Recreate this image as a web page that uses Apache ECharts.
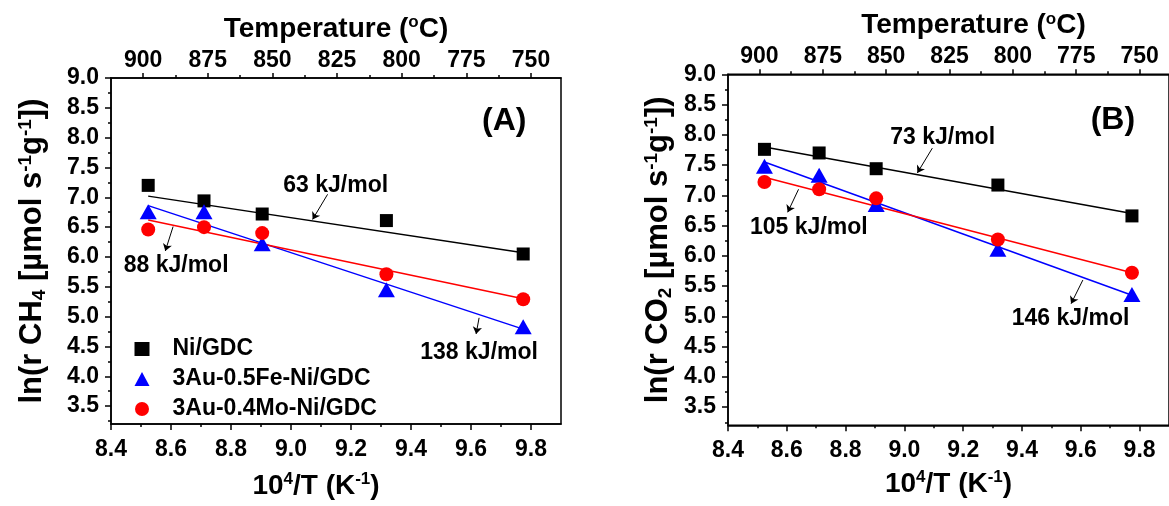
<!DOCTYPE html>
<html>
<head>
<meta charset="utf-8">
<script src="https://cdn.jsdelivr.net/npm/echarts@6/dist/echarts.min.js"></script>
<style>
  html, body { margin: 0; padding: 0; background: #fff; }
  #main { width: 1169px; height: 506px; }
</style>
</head>
<body>
<div id="main"></div>
<script>
// 测点 10^4/T (对应 900, 875, 850, 800, 750 °C)
const xPts = [8.524, 8.710, 8.904, 9.318, 9.774];

// (A) ln(r CH4)
const niA = [7.20, 6.94, 6.72, 6.61, 6.05];
const feA = [6.76, 6.76, 6.22, 5.45, 4.83];
const moA = [6.46, 6.50, 6.40, 5.71, 5.29];
// (B) ln(r CO2)
const niB = [7.76, 7.70, 7.44, 7.17, 6.66];
const feB = [7.48, 7.33, 6.85, 6.11, 5.36];
const moB = [7.22, 7.10, 6.95, 6.27, 5.72];

// 拟合直线两端
const fitX = [8.524, 9.774];
const fitNiA = [7.02, 6.07];
const fitFeA = [6.86, 4.79];
const fitMoA = [6.62, 5.30];
const fitNiB = [7.80, 6.70];
const fitFeB = [7.55, 5.35];
const fitMoB = [7.30, 5.72];

// 刻度
const xMajor = [8.4, 8.6, 8.8, 9.0, 9.2, 9.4, 9.6, 9.8];
const xMinor = [8.5, 8.7, 8.9, 9.1, 9.3, 9.5, 9.7];
const yMajor = [3.5, 4.0, 4.5, 5.0, 5.5, 6.0, 6.5, 7.0, 7.5, 8.0, 8.5, 9.0];
const yMinor = [3.25, 3.75, 4.25, 4.75, 5.25, 5.75, 6.25, 6.75, 7.25, 7.75, 8.25, 8.75];
const topTemps = [900, 875, 850, 825, 800, 775, 750];
const topMinorTemps = [887.5, 862.5, 837.5, 812.5, 787.5, 762.5];
// 上轴是按温度线性排的: 900 °C 和 750 °C 在下轴上的位置
const topAnchorT = [900, 750];
const topAnchorX = [8.507, 9.80];

// 活化能标注 [文字, x, y]
const notesA = [['63 kJ/mol', 9.149, 7.20], ['88 kJ/mol', 8.617, 5.86], ['138 kJ/mol', 9.627, 4.39]];
const notesB = [['73 kJ/mol', 9.130, 7.96], ['105 kJ/mol', 8.675, 6.47], ['146 kJ/mol', 9.565, 4.97]];
// 箭头 [x1, y1, x2, y2]
const arrowsA = [[9.122, 7.05, 9.072, 6.63], [8.607, 6.51, 8.581, 6.10], [9.627, 4.98, 9.617, 4.71]];
const arrowsB = [[9.095, 7.78, 9.044, 7.37], [8.640, 7.10, 8.603, 6.72], [9.607, 5.60, 9.567, 5.21]];

const FONT = 'Liberation Sans';
const k = (topAnchorX[1] - topAnchorX[0]) / (topAnchorT[1] - topAnchorT[0]);
const toPos = t => topAnchorX[0] + (t - topAnchorT[0]) * k;
const toTemp = v => Math.round(topAnchorT[0] + (v - topAnchorX[0]) / k);

function nameStyle(size, padding) {
  const sub = Math.round(size * 0.6);
  return {
    fontFamily: FONT, fontWeight: 'bold', fontSize: size, color: '#000', lineHeight: size + 2,
    padding: padding,
    rich: {
      sup: { fontFamily: FONT, fontWeight: 'bold', fontSize: sub, lineHeight: size + 2, verticalAlign: 'top', color: '#000' },
      sub: { fontFamily: FONT, fontWeight: 'bold', fontSize: sub, lineHeight: size + 2, verticalAlign: 'bottom', color: '#000' }
    }
  };
}
const lbl = { fontFamily: FONT, fontWeight: 'bold', fontSize: 23, color: '#000' };
const blk = { color: '#000', width: 1.5 };

function xAxes(g, botGap, botPad, topGap, topPad) {
  return [
    { gridIndex: g, type: 'value', position: 'bottom', min: 8.4, max: 9.9,
      name: '10{sup|4}/T (K{sup|-1})', nameLocation: 'middle', nameGap: botGap, nameTextStyle: nameStyle(28, botPad),
      axisLine: { lineStyle: blk },
      axisTick: { customValues: xMajor, length: 6, lineStyle: blk },
      axisLabel: Object.assign({ customValues: xMajor, margin: 14, formatter: v => v.toFixed(1) }, lbl),
      splitLine: { show: false } },
    { gridIndex: g, type: 'value', position: 'bottom', min: 8.4, max: 9.9,
      axisLine: { show: false },
      axisTick: { customValues: xMinor, length: 3, lineStyle: blk },
      axisLabel: { show: false }, splitLine: { show: false } },
    { gridIndex: g, type: 'value', position: 'top', min: 8.4, max: 9.9,
      name: 'Temperature ({sup|o}C)', nameLocation: 'middle', nameGap: topGap, nameTextStyle: nameStyle(28, topPad),
      axisLine: { lineStyle: blk },
      axisTick: { customValues: topTemps.map(toPos), length: 5, lineStyle: blk },
      axisLabel: Object.assign({ customValues: topTemps.map(toPos), margin: 6,
        formatter: v => String(toTemp(v)) }, lbl),
      splitLine: { show: false } },
    { gridIndex: g, type: 'value', position: 'top', min: 8.4, max: 9.9,
      axisLine: { show: false },
      axisTick: { customValues: topMinorTemps.map(toPos), length: 3, lineStyle: blk },
      axisLabel: { show: false }, splitLine: { show: false } }
  ];
}

function yAxes(g, title, gap, pad) {
  return [
    { gridIndex: g, type: 'value', position: 'left', min: 3.2, max: 9.0,
      name: title, nameLocation: 'middle', nameRotate: 90, nameGap: gap, nameTextStyle: nameStyle(31, pad),
      axisLine: { lineStyle: blk },
      axisTick: { customValues: yMajor, length: 6, lineStyle: blk },
      axisLabel: Object.assign({ customValues: yMajor, margin: 12, formatter: v => v.toFixed(1) }, lbl),
      splitLine: { show: false } },
    { gridIndex: g, type: 'value', position: 'left', min: 3.2, max: 9.0,
      axisLine: { show: false },
      axisTick: { customValues: yMinor, length: 3, lineStyle: blk },
      axisLabel: { show: false }, splitLine: { show: false } }
  ];
}

function pts(ys) { return xPts.map((x, i) => [x, ys[i]]); }

function scatter(name, ys, xi, yi, symbol, size, color) {
  return { name: name, type: 'scatter', xAxisIndex: xi, yAxisIndex: yi, data: pts(ys),
    symbol: symbol, symbolSize: size, itemStyle: { color: color, opacity: 1 }, z: 5 };
}

function fit(ys, xi, yi, color, extra) {
  return Object.assign({ type: 'line', xAxisIndex: xi, yAxisIndex: yi,
    data: fitX.map((x, i) => [x, ys[i]]), showSymbol: false, symbol: 'none',
    lineStyle: { color: color, width: 1.5 }, z: 3 }, extra || {});
}

// 标注挂在一条线上
function notes(list, arrows, panelTag, tagX, tagY) {
  const mp = list.map(n => ({ coord: [n[1], n[2]], value: n[0], symbolSize: 0,
    label: { show: true, position: 'inside', formatter: n[0], fontFamily: FONT, fontWeight: 'bold', fontSize: 23, color: '#000' } }));
  mp.push({ coord: [tagX, tagY], value: panelTag, symbolSize: 0,
    label: { show: true, position: 'inside', formatter: panelTag, fontFamily: FONT, fontWeight: 'bold', fontSize: 32, color: '#000' } });
  return {
    markPoint: { symbol: 'circle', silent: true, data: mp },
    markLine: { silent: true, symbol: ['none', 'arrow'], symbolSize: 7,
      lineStyle: { color: '#000', width: 1, type: 'solid' }, label: { show: false },
      data: arrows.map(a => [{ coord: [a[0], a[1]] }, { coord: [a[2], a[3]] }]) }
  };
}

const NI = 'Ni/GDC', FE = '3Au-0.5Fe-Ni/GDC', MO = '3Au-0.4Mo-Ni/GDC';

const chart = echarts.init(document.getElementById('main'));
chart.setOption({
  animation: false,
  backgroundColor: '#fff',
  grid: [
    { left: 111, top: 78, width: 450, height: 355, show: true, borderColor: '#000', borderWidth: 1.5, backgroundColor: 'transparent' },
    { left: 728, top: 74.3, width: 445, height: 351, show: true, borderColor: '#000', borderWidth: 1.5, backgroundColor: 'transparent' }
  ],
  legend: {
    data: [NI, FE, MO], orient: 'vertical', left: 129.5, top: 332, itemWidth: 15, itemHeight: 14, itemGap: 6,
    textStyle: { fontFamily: FONT, fontWeight: 'bold', fontSize: 23, color: '#000', lineHeight: 24, padding: [0, 0, 0, 18] },
    selectedMode: false
  },
  xAxis: xAxes(0, 47, [0, 40, 0, 0], 32, [0, 0, 0, 0]).concat(xAxes(1, 44, [0, 0, 0, 0], 28, [0, 0, 0, 50])),
  yAxis: yAxes(0, 'ln(r CH{sub|4} [µmol s{sup|-1}g{sup|-1}])', 62, [0, 0, 0, 0])
    .concat(yAxes(1, 'ln(r CO{sub|2} [µmol s{sup|-1}g{sup|-1}])', 53, [0, 0, 0, 0])),
  series: [
    fit(fitNiA, 0, 0, '#000', notes(notesA, arrowsA, '(A)', 9.711, 8.28)),
    fit(fitFeA, 0, 0, '#0000ff'),
    fit(fitMoA, 0, 0, '#ff0000'),
    scatter(NI, niA, 0, 0, 'rect', 13, '#000'),
    scatter(FE, feA, 0, 0, 'triangle', [17, 15], '#0000ff'),
    scatter(MO, moA, 0, 0, 'circle', 14, '#ff0000'),

    fit(fitNiB, 4, 2, '#000', notes(notesB, arrowsB, '(B)', 9.709, 8.24)),
    fit(fitFeB, 4, 2, '#0000ff'),
    fit(fitMoB, 4, 2, '#ff0000'),
    scatter(NI, niB, 4, 2, 'rect', 13, '#000'),
    scatter(FE, feB, 4, 2, 'triangle', [17, 15], '#0000ff'),
    scatter(MO, moB, 4, 2, 'circle', 14, '#ff0000')
  ]
});
</script>
</body>
</html>
